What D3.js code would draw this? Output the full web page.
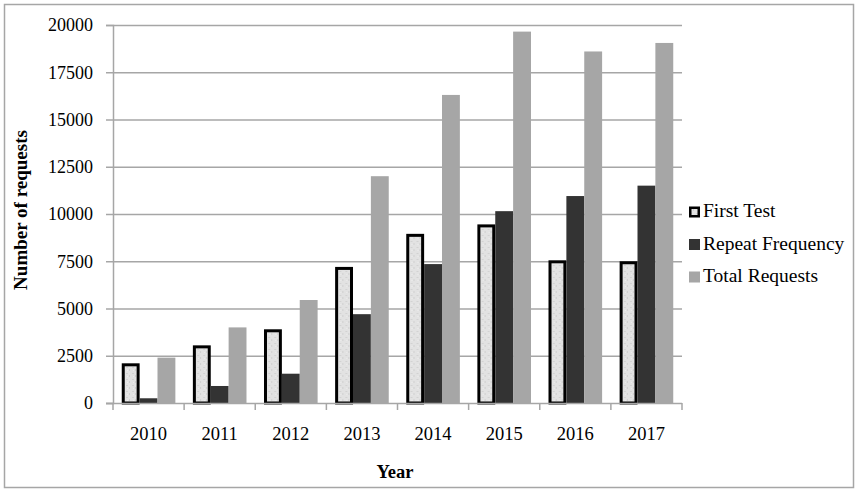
<!DOCTYPE html>
<html><head><meta charset="utf-8">
<script src="https://cdn.jsdelivr.net/npm/d3@7"></script>
<style>body{margin:0;background:#fff}svg{display:block}svg text{font-family:"Liberation Serif","Times New Roman",serif}</style>
</head><body>
<script>
const years = ["2010","2011","2012","2013","2014","2015","2016","2017"];
const seriesNames = ["First Test","Repeat Frequency","Total Requests"];
const firstTest = [2100, 3050, 3900, 7200, 8950, 9450, 7550, 7500];
const repeatFreq = [250, 900, 1550, 4700, 7350, 10150, 10950, 11500];
const totalReq = [2400, 4000, 5450, 12000, 16300, 19650, 18600, 19050];
const yTicks = [0, 2500, 5000, 7500, 10000, 12500, 15000, 17500, 20000];

(function(){
const W = 861, H = 494;
const FONT = '"Liberation Serif","Times New Roman",serif';
const svg = d3.select("body").append("svg").attr("width", W).attr("height", H);
const defs = svg.append("defs");
const pat = defs.append("pattern").attr("id","speck").attr("patternUnits","userSpaceOnUse").attr("width",6).attr("height",6);
pat.append("rect").attr("width",6).attr("height",6).attr("fill","#e2e2e2");
pat.append("rect").attr("x",1).attr("y",1).attr("width",2).attr("height",1).attr("fill","#d2d2d2");
pat.append("rect").attr("x",4).attr("y",3).attr("width",1).attr("height",2).attr("fill","#cfcfcf");
pat.append("rect").attr("x",2).attr("y",4).attr("width",1).attr("height",1).attr("fill","#ededed");

svg.append("rect").attr("x",4.5).attr("y",4.5).attr("width",849).attr("height",483)
  .attr("fill","#fff").attr("stroke","#a6a6a6").attr("stroke-width",1.5);

const mLeft = 113, mRight = 682, mTop = 25, mBottom = 403;
const x = d3.scaleBand().domain(years).range([mLeft, mRight]).paddingInner(0).paddingOuter(0);
const y = d3.scaleLinear().domain([0, 20000]).range([mBottom, mTop]);
const x1 = d3.scaleBand().domain(seriesNames).range([0, x.bandwidth()]).paddingOuter(0.49).paddingInner(0);

svg.append("g").selectAll("line").data(yTicks.filter(d => d > 0)).join("line")
  .attr("x1", mLeft).attr("x2", mRight).attr("y1", d => y(d)+0.5).attr("y2", d => y(d)+0.5)
  .attr("stroke","#a6a6a6").attr("stroke-width",1.5);

const yAxis = svg.append("g").attr("transform",`translate(${mLeft},0)`)
  .call(d3.axisLeft(y).tickValues(yTicks).tickSize(7).tickPadding(13).tickFormat(d3.format("d")));
yAxis.attr("font-family", FONT).attr("font-size", 18);
yAxis.select(".domain").attr("stroke","#a6a6a6").attr("stroke-width",1.5);
yAxis.selectAll(".tick line").attr("stroke","#a6a6a6").attr("stroke-width",1.5);
yAxis.selectAll("text").style("font-family", FONT).style("font-size","18px").attr("fill","#000");

const data = years.map((yr,i) => ({year: yr, vals: [firstTest[i], repeatFreq[i], totalReq[i]]}));
const fills = ["url(#speck)", "#333333", "#a6a6a6"];

const groups = svg.append("g").selectAll("g").data(data).join("g")
  .attr("transform", d => `translate(${x(d.year)},0)`);
groups.selectAll("rect").data(d => d.vals.map((v,k) => ({k, v}))).join("rect")
  .attr("x", d => x1(seriesNames[d.k]) + (d.k===0 ? 1.5 : 0))
  .attr("width", d => x1.bandwidth() - (d.k===0 ? 3 : 0))
  .attr("y", d => y(d.v) + (d.k===0 ? 1.5 : 0))
  .attr("height", d => mBottom - y(d.v) - (d.k===0 ? 1.5 : 0))
  .attr("fill", d => fills[d.k])
  .attr("stroke", d => d.k===0 ? "#000" : "none")
  .attr("stroke-width", 3);

const xAxis = svg.append("g").attr("transform",`translate(0,${mBottom})`);
xAxis.append("line").attr("x1", mLeft-7).attr("x2", mRight).attr("y1",0.5).attr("y2",0.5)
  .attr("stroke","#a6a6a6").attr("stroke-width",1.5);
xAxis.selectAll("line.tk").data(years.concat(["end"])).join("line").attr("class","tk")
  .attr("x1", (d,i) => mLeft + i*x.bandwidth()).attr("x2", (d,i) => mLeft + i*x.bandwidth())
  .attr("y1",0).attr("y2",7).attr("stroke","#a6a6a6").attr("stroke-width",1.5);
xAxis.selectAll("text").data(years).join("text")
  .attr("x", d => x(d) + x.bandwidth()/2).attr("y", 36.5)
  .attr("text-anchor","middle").style("font-family", FONT).style("font-size","18.5px")
  .text(d => d);

svg.append("text").attr("x", 395).attr("y", 478).attr("text-anchor","middle")
  .style("font-family", FONT).attr("font-weight","bold").style("font-size","18.5px").text("Year");
svg.append("text").attr("transform","translate(27,210) rotate(-90)").attr("text-anchor","middle")
  .style("font-family", FONT).attr("font-weight","bold").style("font-size","19px").text("Number  of requests");

const lg = svg.append("g").selectAll("g").data(seriesNames).join("g")
  .attr("transform", (d,i) => `translate(689,${212 + i*32.5})`);
lg.append("rect").attr("x", (d,i)=> i===0?1.25:0).attr("y", (d,i)=> i===0?-4.25:-5.5)
  .attr("width", (d,i)=> i===0?8.5:11).attr("height",(d,i)=> i===0?8.5:11)
  .attr("fill", (d,i) => fills[i]).attr("stroke", (d,i) => i===0 ? "#000" : "none").attr("stroke-width",2.5);
lg.append("text").attr("x", 14).attr("y", 5)
  .style("font-family", FONT).style("font-size","19.5px").text(d => d);
})();
</script>
</body></html>
